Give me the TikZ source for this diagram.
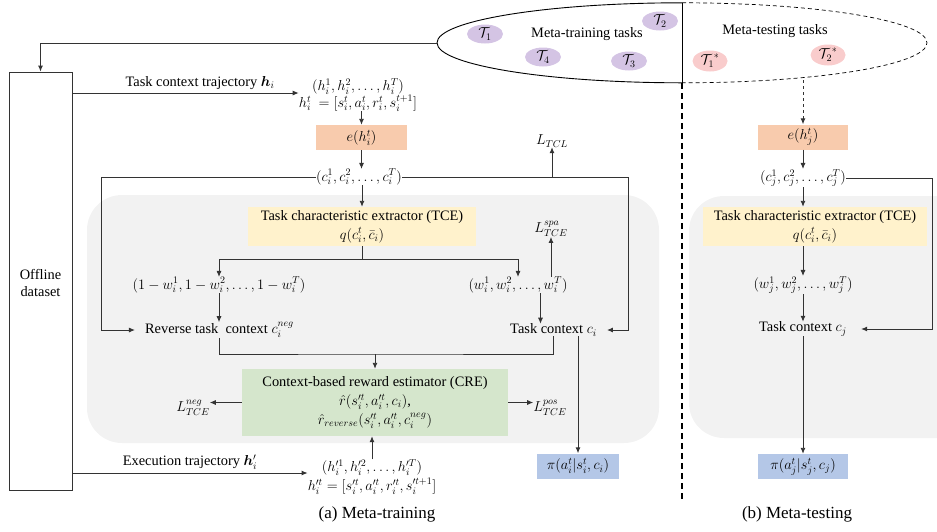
\documentclass[tikz,border=0pt]{standalone}
\usepackage{fontspec}
\setmainfont{Liberation Serif}
\usepackage{amsmath,bm}
\usetikzlibrary{arrows.meta,shapes.geometric,calc}
\definecolor{cOr}{HTML}{F8CBAD}
\definecolor{cYe}{HTML}{FFF2CC}
\definecolor{cGr}{HTML}{D5E6CC}
\definecolor{cBl}{HTML}{B4C7E7}
\definecolor{cPu}{HTML}{D4C4E4}
\definecolor{cPk}{HTML}{F9CCCC}
\definecolor{cPa}{HTML}{F2F2F2}
\definecolor{cLn}{HTML}{333333}
\newcommand\fsz{\fontsize{14.4}{16.5}\selectfont}
\newcommand\fszb{\fontsize{14.4}{19}\selectfont}
\newcommand\capsz{\fontsize{17}{20}\selectfont}
\begin{document}
\begin{tikzpicture}[x=1pt,y=-1pt,
  every node/.style={font=\fsz, inner sep=0pt},
  ln/.style={draw=cLn, line width=0.9pt},
  arr/.style={ln, -{Latex[length=6pt,width=5pt]}},
  fbox/.style={minimum height=25pt, align=center, font=\fszb},
  task/.style={ellipse, minimum width=36pt, minimum height=19pt},
  ctx/.style={inner xsep=10pt},
  captxt/.style={font=\capsz}]
\useasboundingbox (0,0) rectangle (937,531);

% grey panels
\fill[cPa, rounded corners=35pt] (87,195) rectangle (659,443);
\begin{scope}
\clip (0,0) rectangle (937,531);
\fill[cPa, rounded corners=35pt] (689,196) rectangle (985,438);
\end{scope}

% task ellipse
\node[ellipse, minimum width=490pt, minimum height=80pt] (tasks) at (682,43) {};
\draw[line width=0.9pt] (tasks.north) arc[start angle=90, end angle=270, x radius=245pt, y radius=40pt];
\draw[line width=0.7pt, dash pattern=on 4pt off 3pt] (tasks.north) arc[start angle=90, end angle=-90, x radius=245pt, y radius=40pt];
\draw[line width=0.9pt] (tasks.north) -- (tasks.south);
\draw[line width=1.1pt, dash pattern=on 6pt off 4pt] (tasks.south) -- (682,500);

\node[task, fill=cPu] (t1) at (485,34) {$\mathcal{T}_1$};
\node[task, fill=cPu] (t2) at (660,21) {$\mathcal{T}_2$};
\node[task, fill=cPu] (t4) at (543,57) {$\mathcal{T}_4$};
\node[task, fill=cPu] (t3) at (629,61) {$\mathcal{T}_3$};
\node (mtr) at (587,34) {Meta-training tasks};
\node (mte) at (775,31) {Meta-testing tasks};
\node[task, fill=cPk, minimum width=35pt, minimum height=21pt] (s1) at (710,61) {$\mathcal{T}_1^{\,*}$};
\node[task, fill=cPk, minimum width=35pt, minimum height=21pt] (s2) at (828,55) {$\mathcal{T}_2^{\,*}$};

% offline dataset
\node[draw=cLn, line width=0.9pt, minimum width=63pt, minimum height=418pt] (off) at (40.5,281) {};
\node[align=center] (offt) at (40.5,283) {Offline\\dataset};
\draw[arr] (tasks.west) -| (off.north);

% meta-training
\node[align=center] (hi) at (358,95) {$(h_i^1,h_i^2,\ldots,h_i^T)$\\$h_i^t\ =[s_i^t,a_i^t,r_i^t,s_i^{t+1}]$};
\draw[arr] (off.east |- 0,93) -- (hi.west |- 0,93);
\node (hilab) at (200,83) {Task context trajectory $\bm{h}_i$};

\node[fbox, fill=cOr, minimum width=91pt] (e) at (361.5,137.5) {$e(h_i^t)$};
\draw[arr] (e.north |- hi.south) -- (e.north);
\node (c) at (359,177) {$(c_i^1,c_i^2,\ldots,c_i^T)$};
\draw[arr] (e.south) -- (e.south |- c.north);

\node[fbox, fill=cYe, minimum width=228pt, minimum height=39pt] (tce) at (362,226.5) {Task characteristic extractor (TCE)\\$q(c_i^t,\bar{c}_i)$};
\draw[arr] (tce.north |- c.south) -- (tce.north);

\node (w1) at (219,285) {$(1-w_i^1,1-w_i^2,\ldots,1-w_i^T)$};
\node (w2) at (518,285) {$(w_i^1,w_i^2,\ldots,w_i^T)$};
\coordinate (sp) at (362,259);
\draw[ln] (tce.south) -- (sp);
\draw[arr] (sp) -| (w1.north);
\draw[arr] (sp) -| (w2.north);

\node (ltcl) at (552,141) {$L_{TCL}$};
\node (lspa) at (551,229) {$L_{TCE}^{spa}$};
\draw[arr] (lspa.south |- w2.north) -- (lspa.south);

\node[ctx] (rev) at (219.5,330) {Reverse task \ context $c_i^{neg}$};
\node[ctx] (ci) at (553.5,330) {Task context $c_i$};
\draw[arr] (w1.south) -- (w1.south |- rev.north);
\draw[arr] ([xshift=-13pt]ci.north |- w2.south) -- ([xshift=-13pt]ci.north);

\coordinate (lc) at (101,177);
\coordinate (rc) at (628,177);
\draw[arr] (c.west) -- (lc) |- (rev.west);
\draw[arr] (c.east) -- (rc) |- (ci.east);
\draw[arr] (ltcl.south |- c.east) -- (ltcl.south);

\node[fbox, fill=cGr, minimum width=266pt, minimum height=67pt] (cre) at (375,402.5)
  {Context-based reward estimator (CRE)\\$\hat{r}(s'^{t}_{i},a'^{t}_{i},c_i)$,\\$\hat{r}_{reverse}(s'^{t}_{i},a'^{t}_{i},c_i^{neg})$};
\coordinate (mg) at (375,354);
\draw[ln] (rev.south) |- (mg) -| (ci.south);
\draw[arr] (mg) -- (cre.north);

\node (lneg) at (193,408) {$L_{TCE}^{neg}$};
\node (lpos) at (550,408) {$L_{TCE}^{pos}$};
\draw[arr] (cre.west) -- (cre.west -| lneg.east) ;
\draw[arr] (cre.east) -- (cre.east -| lpos.west);

\node[fbox, fill=cBl, minimum width=82pt, minimum height=25pt] (pii) at (578,466) {$\pi(a_i^t|s_i^t,c_i)$};
\draw[arr] (pii.north |- ci.south) -- (pii.north);

\node[align=center, font=\fontsize{14.4}{19}\selectfont] (hp) at (372,477) {$(h'^{1}_{i},h'^{2}_{i},\ldots,h'^{T}_{i})$\\$h'^{t}_{i}=[s'^{t}_{i},a'^{t}_{i},r'^{t}_{i},s'^{t+1}_{i}]$};
\draw[arr] (hp.north) -- (hp.north |- cre.south);
\draw[arr] (off.east |- 0,473) -- (hp.west |- 0,473);
\node (hplab) at (190,462) {Execution trajectory $\bm{h}'_i$};

\node[captxt] (capa) at (377,514) {(a) Meta-training};

% meta-testing
\coordinate (tj) at (803,80);
\node[fbox, fill=cOr, minimum width=90pt] (ej) at (803,137) {$e(h_j^t)$};
\draw[arr, dashed] (tj) -- (ej.north);
\node (cj) at (803,178) {$(c_j^1,c_j^2,\ldots,c_j^T)$};
\draw[arr] (ej.south) -- (cj.north);
\node[fbox, fill=cYe, minimum width=224pt, minimum height=39pt] (tcej) at (815,226.5) {Task characteristic extractor (TCE)\\$q(c_i^t,\bar{c}_i)$};
\draw[arr] (cj.south) -- (cj.south |- tcej.north);
\node (wj) at (803,285) {$(w_j^1,w_j^2,\ldots,w_j^T)$};
\draw[arr] (wj.north |- tcej.south) -- (wj.north);
\node[ctx, inner xsep=14pt] (cjt) at (803,329) {Task context $c_j$};
\draw[arr] (wj.south) -- (cjt.north);
\coordinate (rcj) at (932,178);
\draw[arr] (cj.east) -- (rcj) |- (cjt.east);
\node[fbox, fill=cBl, minimum width=90pt, minimum height=25pt] (pij) at (803,466.5) {$\pi(a_j^t|s_j^t,c_j)$};
\draw[arr] (cjt.south) -- (pij.north);
\node[captxt] (capb) at (797,514) {(b) Meta-testing};
\end{tikzpicture}
\end{document}
